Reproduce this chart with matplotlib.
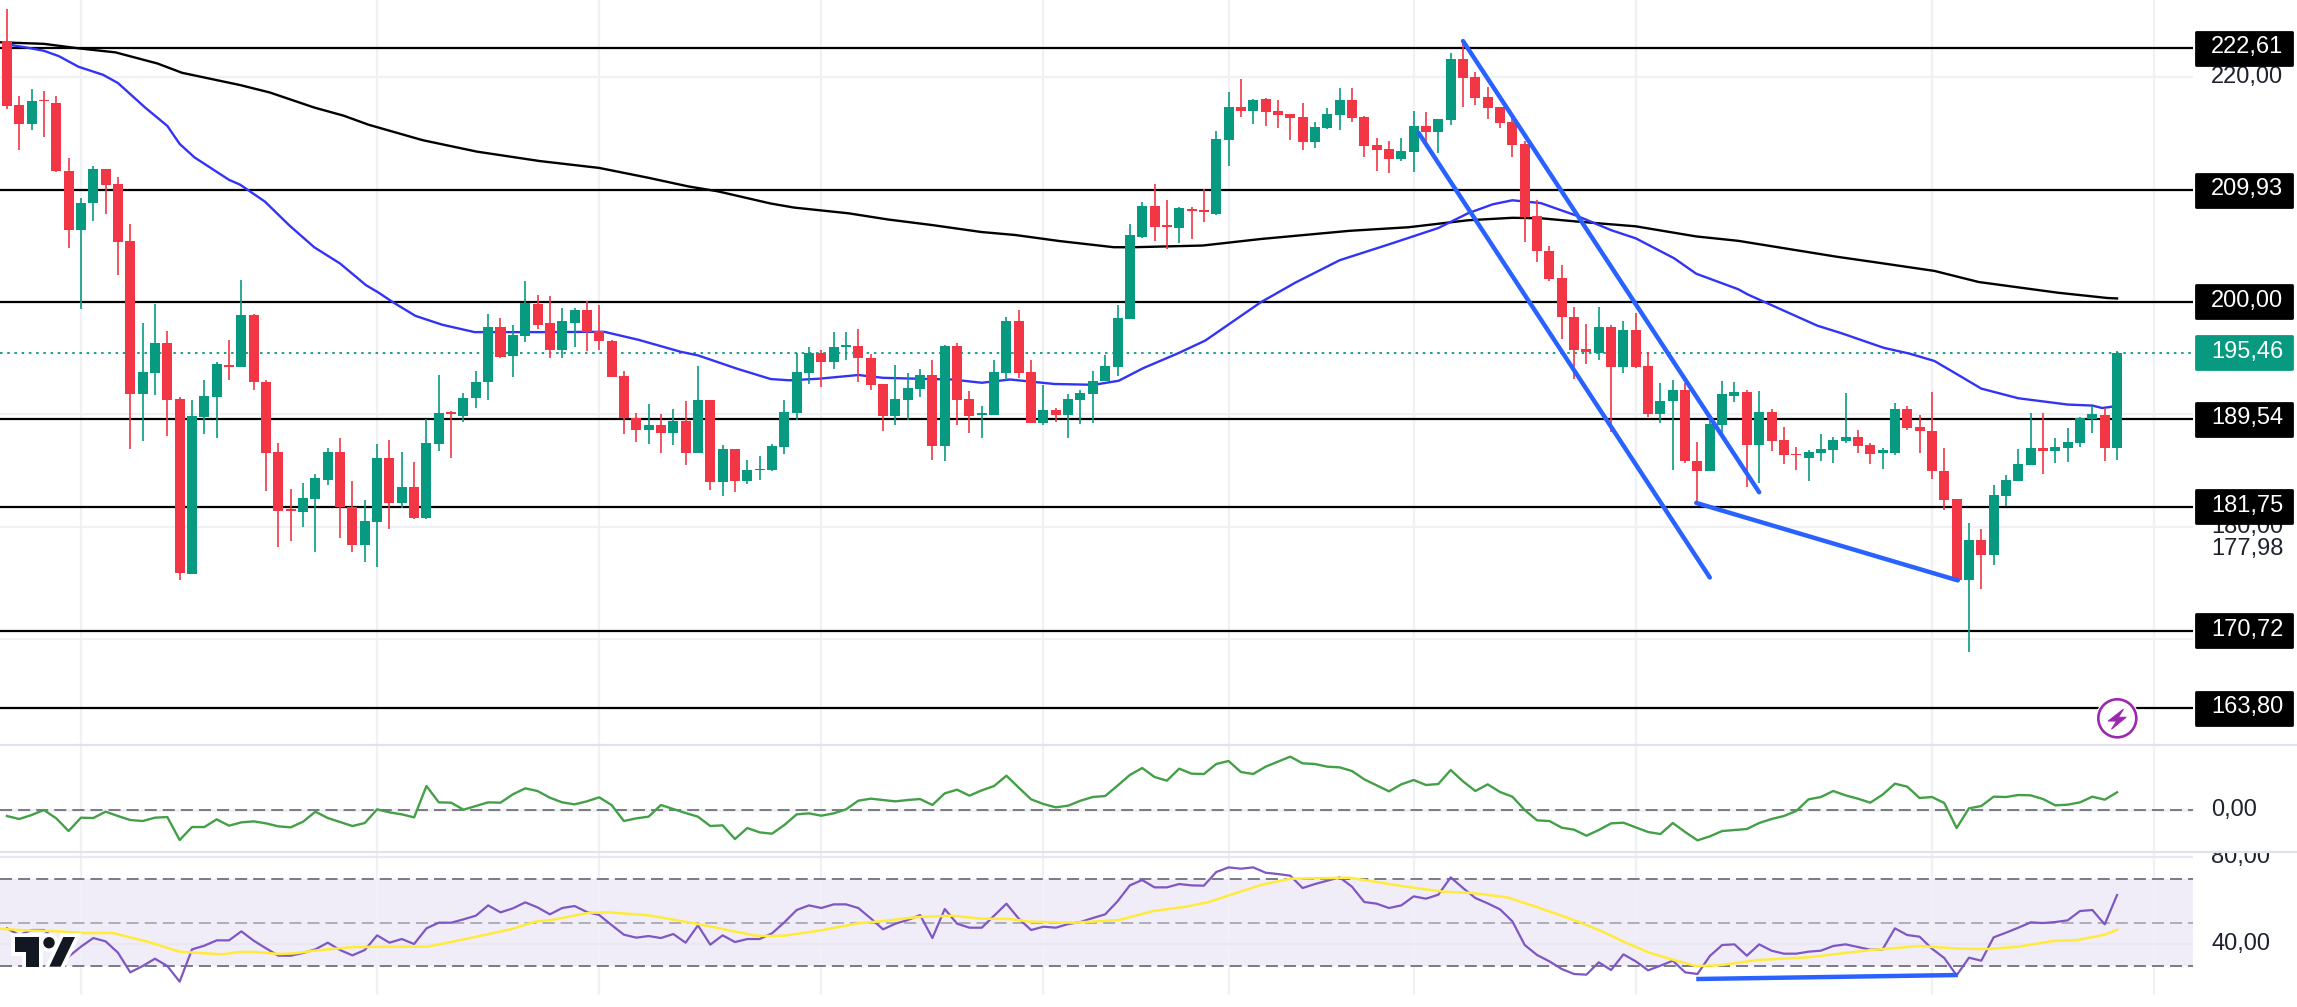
import matplotlib
matplotlib.use('Agg')
import matplotlib.pyplot as plt
import matplotlib.patheffects as pe
from matplotlib.patches import Rectangle, Circle, Polygon
from matplotlib.transforms import blended_transform_factory

plt.rcParams['font.family'] = ['Liberation Sans', 'DejaVu Sans']

# candles
opens = [223.23, 217.52, 215.85, 217.96, 217.70, 211.63, 206.43, 208.84, 211.81, 210.47,
         205.41, 191.82, 193.67, 196.32, 191.35, 175.81, 189.75, 191.53, 194.40, 194.21,
         198.84, 192.84, 186.62, 181.52, 181.31, 182.43, 184.14, 186.62, 181.74, 178.36,
         180.40, 186.14, 182.10, 183.49, 180.72, 187.35, 190.18, 189.82, 191.42, 192.87,
         197.74, 195.20, 196.98, 199.78, 198.11, 195.71, 198.11, 199.27, 197.38, 196.54,
         193.38, 189.67, 188.62, 189.05, 188.32, 189.38, 186.54, 191.24, 183.96, 186.87,
         184.07, 185.05, 185.02, 187.05, 190.07, 193.67, 195.42, 194.62, 195.98, 196.03,
         195.02, 192.65, 189.82, 191.27, 192.25, 193.45, 187.16, 196.10, 191.31, 189.89,
         189.89, 193.67, 198.33, 193.74, 189.24, 190.36, 189.89, 191.27, 191.78, 192.94,
         194.21, 198.47, 205.78, 208.51, 206.83, 206.54, 208.25, 208.18, 207.82, 214.40,
         217.34, 216.98, 218.03, 216.98, 216.72, 216.43, 214.22, 215.45, 216.62, 217.96,
         216.43, 213.96, 213.60, 212.69, 213.34, 215.63, 215.12, 216.18, 221.60, 220.00,
         218.21, 217.34, 215.99, 214.03, 207.67, 204.53, 202.12, 198.67, 195.78, 195.47,
         197.76, 194.22, 197.50, 194.31, 190.00, 191.16, 192.15, 185.85, 184.90, 189.00,
         191.59, 191.98, 187.23, 190.21, 187.71, 186.50, 186.11, 186.59, 186.85, 187.58,
         188.01, 187.28, 186.59, 186.59, 190.43, 188.83, 188.53, 184.95, 182.45, 175.24,
         178.82, 177.49, 182.75, 184.09, 185.51, 186.98, 186.76, 187.02, 187.41, 189.61,
         189.91, 186.98]
highs = [226.07, 218.32, 218.94, 218.76, 218.32, 212.80, 209.23, 212.14, 211.81, 211.08,
         206.91, 198.11, 199.78, 197.38, 191.49, 191.24, 193.09, 194.69, 196.63, 201.93,
         198.91, 193.02, 187.42, 183.30, 183.85, 184.72, 186.98, 187.85, 184.03, 182.32,
         187.31, 187.67, 186.62, 185.71, 189.60, 193.45, 190.33, 191.93, 193.89, 198.96,
         198.60, 197.98, 201.85, 200.58, 200.51, 199.42, 199.42, 200.07, 199.71, 196.58,
         193.82, 190.07, 190.87, 189.98, 190.44, 191.16, 194.32, 191.27, 187.24, 186.94,
         185.96, 186.25, 187.31, 191.24, 195.42, 195.98, 195.71, 197.31, 197.31, 197.63,
         195.34, 192.72, 194.36, 193.63, 194.07, 194.80, 196.18, 196.32, 192.03, 190.69,
         194.87, 198.69, 199.27, 194.80, 192.58, 190.51, 191.78, 192.14, 193.89, 195.23,
         199.71, 206.91, 208.87, 210.47, 209.05, 208.43, 208.43, 210.03, 215.20, 218.69,
         219.82, 218.07, 218.18, 217.96, 216.72, 217.70, 216.00, 217.23, 219.01, 219.01,
         216.54, 214.58, 214.32, 214.58, 216.98, 216.91, 216.25, 222.14, 223.23, 220.43,
         219.12, 217.34, 216.72, 214.32, 209.05, 204.96, 203.28, 199.57, 198.06, 199.57,
         197.93, 198.32, 199.01, 195.52, 192.80, 193.01, 192.80, 187.54, 189.52, 192.97,
         192.89, 192.15, 192.07, 190.43, 188.87, 187.11, 186.85, 188.27, 187.97, 191.89,
         188.61, 187.41, 186.98, 191.03, 190.69, 189.95, 191.98, 187.02, 182.45, 180.33,
         179.81, 183.74, 184.60, 186.93, 190.08, 190.12, 187.84, 188.79, 189.78, 190.73,
         190.56, 195.60]
lows = [217.16, 213.52, 215.31, 214.65, 211.60, 204.80, 199.35, 207.20, 207.82, 202.36,
        186.94, 187.60, 191.67, 188.04, 175.23, 175.74, 188.22, 187.85, 193.02, 194.21,
        192.14, 183.12, 178.21, 178.69, 179.93, 177.74, 183.67, 178.98, 177.74, 176.80,
        176.38, 179.82, 181.67, 180.65, 180.65, 186.69, 186.07, 189.27, 190.51, 191.24,
        194.98, 193.27, 196.40, 197.63, 194.98, 194.98, 195.96, 195.60, 195.71, 193.31,
        188.22, 187.49, 187.31, 186.51, 187.24, 185.51, 186.54, 183.23, 182.72, 183.05,
        183.78, 184.18, 184.94, 186.43, 189.49, 192.69, 192.43, 194.00, 194.80, 192.84,
        192.14, 188.47, 189.02, 189.49, 191.53, 185.89, 185.82, 189.02, 188.29, 187.92,
        189.89, 193.02, 193.20, 189.24, 189.02, 189.31, 187.92, 189.09, 189.24, 192.94,
        193.38, 198.47, 205.67, 205.41, 204.72, 205.23, 205.56, 207.09, 207.71, 212.07,
        216.43, 215.82, 215.63, 215.52, 214.40, 213.52, 213.67, 215.38, 215.31, 216.00,
        212.87, 211.63, 211.45, 212.54, 211.56, 213.85, 213.23, 215.74, 217.34, 217.52,
        216.25, 215.45, 212.87, 205.30, 203.56, 201.82, 196.72, 193.14, 194.48, 194.83,
        188.40, 193.66, 194.09, 189.78, 189.18, 185.03, 185.68, 182.14, 184.90, 188.27,
        191.12, 183.48, 183.83, 186.76, 185.60, 185.03, 184.04, 185.85, 185.68, 187.45,
        186.54, 185.60, 185.12, 186.33, 188.62, 186.54, 184.21, 181.50, 175.11, 168.86,
        174.46, 176.58, 181.80, 184.09, 185.51, 184.69, 185.68, 185.77, 187.06, 188.36,
        185.85, 185.94]
closes = [217.42, 215.85, 217.89, 217.85, 211.67, 206.43, 208.80, 211.81, 210.39, 205.34,
          191.82, 193.74, 196.32, 191.27, 175.85, 189.82, 191.60, 194.43, 194.21, 198.84,
          192.87, 186.54, 181.38, 181.38, 182.51, 184.29, 186.62, 181.74, 178.32, 180.47,
          186.14, 182.10, 183.49, 180.76, 187.42, 190.07, 190.04, 191.45, 192.91, 197.74,
          195.13, 197.02, 199.93, 197.96, 195.71, 198.29, 199.27, 197.34, 196.54, 193.31,
          189.67, 188.62, 189.05, 188.32, 189.38, 186.54, 191.24, 183.96, 186.87, 184.07,
          185.02, 185.16, 187.13, 190.18, 193.74, 195.42, 194.62, 195.96, 196.14, 195.02,
          192.62, 189.85, 191.31, 192.29, 193.45, 187.16, 196.10, 191.27, 189.82, 190.07,
          193.74, 198.33, 193.67, 189.24, 190.36, 189.89, 191.31, 191.85, 192.98, 194.25,
          198.55, 205.92, 208.51, 206.69, 206.69, 208.36, 208.07, 208.03, 214.47, 217.34,
          216.98, 217.96, 216.91, 216.62, 216.36, 214.22, 215.56, 216.72, 217.96, 216.36,
          213.89, 213.52, 212.69, 213.41, 215.63, 215.12, 216.25, 221.60, 219.92, 218.14,
          217.23, 215.96, 213.96, 207.60, 204.51, 202.03, 198.62, 195.69, 195.56, 197.76,
          194.22, 197.50, 194.22, 190.00, 191.20, 192.15, 185.81, 184.90, 189.09, 191.81,
          191.94, 187.23, 190.21, 187.58, 186.33, 186.33, 186.67, 186.89, 187.71, 188.01,
          187.19, 186.50, 186.80, 190.43, 188.79, 188.49, 184.95, 182.36, 175.20, 178.82,
          177.49, 182.83, 184.13, 185.55, 186.98, 186.76, 187.11, 187.54, 189.69, 190.00,
          186.98, 195.47]

# moving averages over the candles: bar index, price
ma_blue_x = [0, 1.8, 3.0, 4.2, 5.8, 7.8, 9.0, 11.2, 13.0, 14.0, 15.2, 18.0, 18.9, 20.9, 22.9, 24.9,
             27.0, 29.1, 30.1, 31.3, 33.1, 35.3, 37.9, 41.6, 44.0, 48.4, 51.2, 54.6, 56.0, 59.2, 61.9,
             63.4, 65.8, 69.0, 71.0, 73.8, 76.6, 79.0, 81.3, 84.9, 88.1, 90.1, 92.1, 94.9, 97.1, 101.6,
             104.4, 108.0, 112.4, 116.0, 118.4, 120.4, 122.0, 124.3, 127.2, 130.0, 132.0, 135.1, 136.9,
             140.3, 141.1, 143.9, 146.7, 148.7, 152.1, 154.2, 156.2, 158.0, 160.0, 163.0, 167.0, 169.0,
             169.8, 171]
ma_blue_y = [222.94, 222.61, 222.36, 221.89, 220.94, 220.22, 219.49, 217.31, 215.67, 214.07, 212.87,
             210.87, 210.44, 208.94, 206.80, 204.87, 203.42, 201.49, 200.84, 199.96, 198.76, 197.96,
             197.31, 197.31, 197.31, 197.34, 196.62, 195.56, 195.24, 194.04, 193.13, 193.02, 193.16,
             193.49, 193.24, 193.16, 193.09, 192.80, 193.09, 192.69, 192.62, 192.98, 194.11, 195.42,
             196.55, 199.96, 201.71, 203.71, 205.27, 206.58, 207.89, 208.69, 209.05, 208.80, 207.68,
             206.39, 205.66, 203.89, 202.51, 201.13, 200.65, 199.27, 197.89, 197.20, 195.91, 195.39,
             194.74, 193.58, 192.28, 191.42, 190.86, 190.77, 190.55, 190.73]
ma_black_x = [-0.6, 3.0, 5.8, 8.8, 12.2, 14.2, 18.9, 21.3, 24.9, 27.3, 29.3, 33.7, 38.1, 43.2, 48.0,
              52.0, 55.2, 57.6, 61.9, 63.8, 68.2, 71.4, 75.0, 79.0, 81.7, 85.3, 89.7, 91.3, 96.9,
              101.6, 108.8, 113.6, 118.4, 122.0, 124.3, 127.2, 132.0, 136.9, 140.3, 148.3, 151.1,
              156.2, 159.8, 166.2, 170.2, 171]
ma_black_y = [223.12, 222.98, 222.58, 222.22, 221.23, 220.40, 219.31, 218.65, 217.31, 216.58, 215.78,
              214.40, 213.38, 212.54, 211.93, 211.05, 210.29, 209.85, 208.76, 208.40, 207.89, 207.34,
              206.84, 206.22, 205.96, 205.42, 204.87, 204.87, 205.02, 205.60, 206.33, 206.65, 207.27,
              207.49, 207.45, 207.16, 206.73, 205.83, 205.44, 204.02, 203.58, 202.76, 201.77, 200.82,
              200.35, 200.31]

levels = [222.61, 209.93, 200.00, 189.54, 181.75, 170.72, 163.80]
level_labels = ['222,61', '209,93', '200,00', '189,54', '181,75', '170,72', '163,80']
last_price = 195.46
price_grid = [170, 180, 190, 200, 210, 220]
time_grid = [6, 30, 48, 66, 84, 99, 114, 132, 156, 174]

# hand drawn trend lines: bar index pairs and price pairs
trend_x = [[118.0, 142.0], [114.4, 138.0], [136.9, 158.1]]
trend_y = [[223.23, 183.05], [215.05, 175.46], [182.10, 175.20]]

cmf = [-0.036, -0.054, -0.030, 0.000, -0.050, -0.126, -0.046, -0.048, -0.010, -0.036,
       -0.060, -0.066, -0.046, -0.042, -0.180, -0.102, -0.102, -0.056, -0.094, -0.074,
       -0.068, -0.080, -0.098, -0.104, -0.070, -0.010, -0.048, -0.072, -0.096, -0.078,
       0.004, -0.014, -0.026, -0.044, 0.144, 0.046, 0.044, 0.002, 0.024, 0.046,
       0.044, 0.094, 0.130, 0.114, 0.074, 0.046, 0.034, 0.052, 0.076, 0.030,
       -0.066, -0.050, -0.040, 0.030, 0.006, -0.018, -0.040, -0.096, -0.092, -0.174,
       -0.108, -0.134, -0.142, -0.090, -0.026, -0.020, -0.034, -0.020, 0.004, 0.056,
       0.068, 0.060, 0.052, 0.060, 0.066, 0.030, 0.100, 0.122, 0.086, 0.118,
       0.144, 0.206, 0.134, 0.064, 0.036, 0.016, 0.026, 0.056, 0.078, 0.084,
       0.146, 0.210, 0.252, 0.198, 0.176, 0.248, 0.218, 0.216, 0.276, 0.294,
       0.228, 0.216, 0.260, 0.290, 0.320, 0.280, 0.276, 0.260, 0.256, 0.234,
       0.184, 0.148, 0.112, 0.154, 0.180, 0.150, 0.156, 0.240, 0.172, 0.114,
       0.154, 0.108, 0.080, 0.000, -0.062, -0.066, -0.106, -0.118, -0.154, -0.120,
       -0.080, -0.076, -0.104, -0.132, -0.144, -0.078, -0.132, -0.182, -0.158, -0.126,
       -0.120, -0.114, -0.078, -0.054, -0.036, -0.006, 0.064, 0.078, 0.114, 0.088,
       0.068, 0.044, 0.092, 0.158, 0.140, 0.072, 0.078, 0.042, -0.108, 0.010,
       0.024, 0.080, 0.078, 0.090, 0.088, 0.066, 0.028, 0.032, 0.046, 0.080,
       0.062, 0.106]

rsi = [47.32, 44.25, 46.55, 46.55, 41.95, 34.29, 38.89, 42.87, 41.34, 36.13,
       27.09, 30.00, 33.37, 30.00, 22.80, 37.66, 39.35, 41.80, 41.80, 45.94,
       41.65, 38.12, 34.75, 34.75, 35.98, 37.66, 40.73, 37.36, 34.90, 37.36,
       44.10, 40.73, 42.41, 40.12, 47.32, 49.92, 49.92, 51.46, 53.14, 57.89,
       54.67, 56.51, 59.27, 56.97, 53.76, 56.67, 57.59, 54.83, 53.45, 48.85,
       44.41, 43.03, 43.79, 42.87, 44.71, 40.73, 48.70, 39.81, 44.10, 41.03,
       42.41, 42.41, 45.02, 50.08, 55.75, 57.89, 56.67, 58.35, 58.35, 56.67,
       51.92, 46.86, 49.46, 51.15, 53.45, 42.87, 56.21, 49.46, 47.62, 47.62,
       53.14, 58.66, 51.76, 46.55, 48.08, 47.62, 49.31, 50.23, 52.07, 53.76,
       59.73, 67.09, 69.54, 66.17, 66.17, 67.70, 67.09, 66.94, 73.22, 75.36,
       74.75, 75.36, 72.91, 72.30, 71.53, 65.86, 67.70, 69.23, 70.77, 66.48,
       59.43, 58.66, 56.67, 57.89, 62.03, 60.96, 62.80, 70.77, 65.86, 61.27,
       58.81, 56.05, 50.54, 39.66, 35.06, 32.15, 28.62, 26.32, 26.02, 31.69,
       28.16, 35.36, 32.15, 28.01, 30.15, 32.45, 27.09, 26.32, 34.60, 39.66,
       39.96, 34.75, 39.96, 37.05, 35.67, 35.67, 36.59, 37.05, 39.20, 39.96,
       38.74, 37.51, 37.66, 47.32, 44.25, 43.49, 37.97, 33.68, 25.71, 33.83,
       32.45, 43.18, 45.33, 47.62, 50.08, 49.77, 50.23, 51.00, 55.29, 55.75,
       49.16, 62.64]

rsi_ma_x = [-0.6, 1.4, 3.8, 6.2, 8.6, 11.4, 14.0, 17.4, 18.9, 20.1, 22.1, 23.3, 24.9, 28.1, 32.9, 34.1,
            37.3, 40.8, 42.8, 44.4, 47.2, 48.8, 52.0, 56.0, 60.7, 61.8, 63.0, 65.8, 69.0, 71.0, 73.8,
            76.6, 79.0, 81.3, 82.9, 86.5, 90.1, 92.9, 95.7, 97.3, 101.6, 104.0, 108.8, 113.2, 116.4,
            118.8, 121.6, 124.3, 127.2, 129.2, 131.2, 133.1, 135.1, 136.9, 138.7, 141.9, 145.9, 151.1,
            155.0, 158.2, 160.6, 163.0, 165.8, 167.8, 170.0, 171.0]
rsi_ma_y = [47.17, 46.40, 46.09, 45.17, 45.17, 41.19, 36.59, 35.36, 36.44, 36.44, 35.52, 35.82, 37.05,
            38.74, 38.89, 38.89, 42.57, 46.86, 50.38, 51.46, 54.52, 54.67, 53.30, 49.31, 43.95, 43.79,
            43.95, 46.25, 49.62, 50.69, 52.53, 53.14, 51.76, 51.61, 50.38, 49.92, 51.15, 55.29, 57.43,
            59.27, 67.24, 70.15, 70.61, 66.63, 64.18, 63.56, 61.57, 56.51, 50.69, 46.09, 40.73, 36.13,
            32.76, 30.00, 30.31, 32.76, 33.98, 37.36, 39.20, 37.97, 37.82, 38.89, 41.49, 41.95, 44.41,
            46.71]
rsi_trend_x = [136.9, 158.1]
rsi_trend_y = [24.02, 25.86]

GREEN = '#089981'
RED = '#f23645'
TREND = '#2962ff'
W, H = 2297, 1007
PLOT_RIGHT = 2193
BAR_PX = 12.34
BAR0_PX = 6.9
DASH = (0, (6.2, 3.1))


def px_to_bar(px):
    return (px - BAR0_PX) / BAR_PX


def pane(top, bottom, ylim):
    ax = fig.add_axes([0, 1 - bottom / H, 1, (bottom - top) / H])
    ax.set_xlim(px_to_bar(0), px_to_bar(W))
    ax.set_ylim(*ylim)
    ax.set_xticks([])
    ax.set_yticks([])
    ax.set_frame_on(False)
    ax.patch.set_alpha(0)
    ax.vlines(time_grid, ylim[0], ylim[1], color='#f0f1f4', lw=1.6, zorder=1)
    return ax


def tick(ax, y, txt, color='#1e222d', z=6):
    t = blended_transform_factory(ax.transAxes, ax.transData)
    ax.text(2211 / W, y, txt, transform=t, ha='left', va='center', fontsize=17, color=color,
            zorder=z, clip_on=True)


fig = plt.figure(figsize=(W / 100, H / 100), dpi=100)

# price pane
PX_UNIT = 11.23
ax = pane(0, 745, (222.61 - (745 - 48) / PX_UNIT, 222.61 + 48 / PX_UNIT))
x_right = px_to_bar(PLOT_RIGHT)
x_left = px_to_bar(0)
ax.hlines(price_grid, x_left, x_right, color='#f0f1f4', lw=1.6, zorder=1)
ax.hlines(levels, x_left, x_right, color='black', lw=1.6, zorder=2)
ax.plot([x_left, x_right], [last_price, last_price], color=GREEN, lw=1.3, ls=(0, (1.4, 2.6)), zorder=2)
ax.plot(ma_black_x, ma_black_y, color='black', lw=1.7, zorder=3)
ax.plot(ma_blue_x, ma_blue_y, color='#3333f5', lw=1.7, zorder=3)

xs = list(range(len(opens)))
cols = [GREEN if c >= o else RED for o, c in zip(opens, closes)]
ax.vlines(xs, lows, highs, colors=cols, lw=1.2, zorder=4)
ax.bar(xs, [abs(c - o) for o, c in zip(opens, closes)], bottom=[min(o, c) for o, c in zip(opens, closes)],
       width=10 / BAR_PX, color=cols, linewidth=0, zorder=4)

for tx, ty in zip(trend_x, trend_y):
    ax.plot(tx, ty, color=TREND, lw=3.2, solid_capstyle='round', zorder=5)

tick(ax, 220, '220,00')
tick(ax, 180, '180,00')
tick(ax, 177.98, '177,98')

t = blended_transform_factory(ax.transAxes, ax.transData)
tag_h = 33 / PX_UNIT
for val, txt, col in zip(levels + [last_price], level_labels + ['195,46'], ['black'] * len(levels) + [GREEN]):
    ax.add_patch(Rectangle((2196 / W, val - tag_h / 2), 96 / W, tag_h, transform=t, facecolor=col,
                           edgecolor=col, lw=2, joinstyle='round', zorder=7))
    ax.text(2211 / W, val + 0.1, txt, transform=t, ha='left', va='center', fontsize=17, color='white', zorder=8)

# money flow pane
ax2 = pane(745, 851.7, (-0.25, 0.39))
ax2.hlines(0, x_left, x_right, color='#f0f1f4', lw=2.2, zorder=1)
ax2.plot([x_left, x_right], [0, 0], color='#787b86', lw=1.4, ls=DASH, zorder=2)
ax2.plot(xs, cmf, color='#43a047', lw=1.7, zorder=3)
tick(ax2, 0, '0,00')

# RSI pane
ax3 = pane(851.7, 995, (16.67, 82.57))
ax3.fill_between([x_left, x_right], 30, 70, color='#f0edf9', linewidth=0, zorder=0.5)
ax3.hlines([40, 80], x_left, x_right, color='#e9e7f2', lw=1.6, zorder=1)
ax3.plot([x_left, x_right], [70, 70], color='#787b86', lw=1.4, ls=DASH, zorder=2)
ax3.plot([x_left, x_right], [30, 30], color='#787b86', lw=1.4, ls=DASH, zorder=2)
ax3.plot([x_left, x_right], [50, 50], color='#787b86', alpha=0.55, lw=1.4, ls=DASH, zorder=2)
ax3.plot(xs, rsi, color='#7e57c2', lw=1.6, zorder=3)
ax3.plot(rsi_ma_x, rsi_ma_y, color='#ffeb3b', lw=1.8, zorder=3)
ax3.plot(rsi_trend_x, rsi_trend_y, color=TREND, lw=3.2, solid_capstyle='butt', zorder=5)
tick(ax3, 80, '80,00')
tick(ax3, 40, '40,00')

# separators, logo and icon sit in a pixel overlay
ov = fig.add_axes([0, 0, 1, 1])
ov.set_xlim(0, W)
ov.set_ylim(H, 0)
ov.axis('off')
ov.patch.set_alpha(0)
ov.hlines([745, 851.7], 0, W, color='#e0e3eb', lw=1.6, zorder=1)

halo = [pe.withStroke(linewidth=5.5, foreground='white')]
logo_dark = '#131722'
for pts in ([(15, 937), (39.3, 937), (39.3, 966.7), (26, 966.7), (26, 952.3), (15, 952.3)],
            [(63.3, 937), (75, 937), (60.7, 966.7), (49.3, 966.7)]):
    ov.add_patch(Polygon(pts, closed=True, facecolor=logo_dark, edgecolor='none', zorder=3, path_effects=halo))
ov.add_patch(Circle((49, 942.7), 5.7, facecolor=logo_dark, edgecolor='none', zorder=3, path_effects=halo))

ov.add_patch(Circle((2117.3, 718.3), 21.5, facecolor='white', edgecolor='none', zorder=3))
ov.add_patch(Circle((2117.3, 718.3), 19, facecolor='white', edgecolor='#9c27b0', lw=1.9, zorder=3))
ov.add_patch(Polygon([(2123.3, 709.3), (2108.3, 721), (2116.7, 721), (2111.7, 729), (2126, 717.3), (2118.3, 717.3)],
                     closed=True, facecolor='#9c27b0', edgecolor='#9c27b0', lw=0.8, joinstyle='round', zorder=4))

fig.savefig('out.png', dpi=100)
